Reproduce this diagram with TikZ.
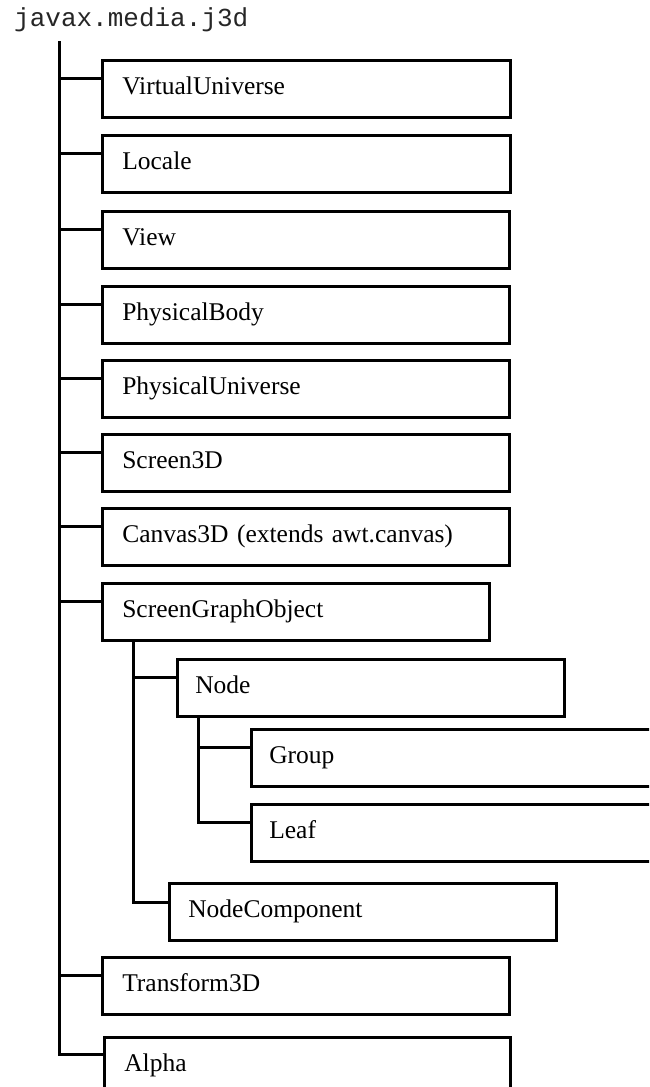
\documentclass[tikz,border=0pt]{standalone}
\usepackage{fontspec}
\setmainfont{Liberation Serif}
\setmonofont{Liberation Mono}
\begin{document}
\begin{tikzpicture}[x=1pt,y=-1pt,
  box/.style={draw=black, line width=2.6pt, rectangle, anchor=north west,
    inner xsep=20pt, inner ysep=0pt, minimum height=57pt,
    text height=18pt, text depth=6pt, align=left,
    font=\fontsize{25.5}{30}\selectfont},
  conn/.style={draw=black, line width=3pt}]
\useasboundingbox (0,0) rectangle (649,1087);
\clip (0,0) rectangle (649,1087);

\node[anchor=base west, inner sep=0pt, text=black!85,
  font=\ttfamily\fontsize{26}{30}\selectfont] (pkg) at (14,26) {javax.media.j3d};
\coordinate (t0) at (59,41);

\node[box, text width=368pt] (vu)   at (101,59)  {VirtualUniverse};
\node[box, text width=368pt] (loc)  at (101,134) {Locale};
\node[box, text width=367pt] (view) at (101,210) {View};
\node[box, text width=367pt] (pb)   at (101,285) {PhysicalBody};
\node[box, text width=367pt] (pu)   at (101,359) {PhysicalUniverse};
\node[box, text width=367pt] (s3d)  at (101,433) {Screen3D};
\node[box, text width=367pt] (c3d)  at (101,507) {Canvas3D (extends awt.canvas)};
\node[box, text width=347pt] (sgo)  at (101,582) {ScreenGraphObject};
\node[box, text width=347pt, inner xsep=18pt, text width=351pt] (nd) at (176,658) {Node};
\node[box, inner xsep=18pt, text width=384pt] (grp)  at (250,728) {Group};
\node[box, inner xsep=18pt, text width=384pt] (leaf) at (250,803) {Leaf};
\node[box, inner xsep=19pt, text width=349pt] (nc)   at (168,882) {NodeComponent};
\node[box, text width=367pt] (t3d)  at (101,956) {Transform3D};
\node[box, text width=366pt] (alpha) at (103,1036) {Alpha};

% main trunk
\draw[conn] (t0) |- ([yshift=-18pt]alpha.north west);
\foreach \n in {vu,loc,view,pb,pu,s3d,c3d,sgo,t3d}
  \draw[conn] ([yshift=-19pt]\n.north west) -- ([yshift=-19pt]\n.north west -| t0);

% ScreenGraphObject subtree
\coordinate (s0) at ([xshift=32pt]sgo.south west);
\draw[conn] (s0) |- ([yshift=-19pt]nd.north west);
\draw[conn] (s0) |- ([yshift=-20pt]nc.north west);

% Node subtree
\coordinate (n0) at ([xshift=22pt]nd.south west);
\draw[conn] (n0) |- ([yshift=-19pt]grp.north west);
\draw[conn] (n0) |- ([yshift=-19pt]leaf.north west);
\end{tikzpicture}
\end{document}
